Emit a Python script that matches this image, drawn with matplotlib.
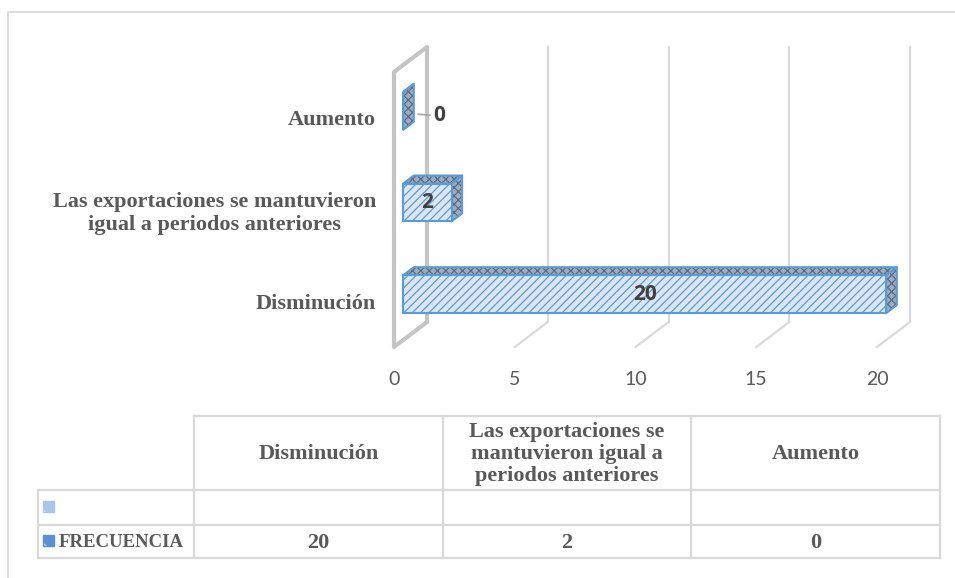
import matplotlib
matplotlib.use("Agg")
import matplotlib.pyplot as plt
from matplotlib.patches import Polygon, Rectangle
from matplotlib.lines import Line2D

# ---------------- data ----------------
categories = ["Disminución",
              "Las exportaciones se mantuvieron\nigual a periodos anteriores",
              "Aumento"]
table_headers = ["Disminución",
                 "Las exportaciones se\nmantuvieron igual a\nperiodos anteriores",
                 "Aumento"]
values = [20, 2, 0]
series_name = "FRECUENCIA"
x_ticks = [0, 5, 10, 15, 20]

# ---------------- style ----------------
plt.rcParams['hatch.linewidth'] = 0.9
W, H = 955, 578
SERIF = ['Liberation Serif', 'DejaVu Serif']
SANS = ['Lato', 'DejaVu Sans']
BOLDSANS = ['Open Sans', 'DejaVu Sans']
TXT = '#595959'
GRID = '#d9d9d9'
WALL = '#c4c4c4'
BLUE = '#5b9bd5'
FRONT = '#dce6f2'
DARKFACE = '#9eacbf'
DARKHATCH = '#5a6a80'

fig = plt.figure(figsize=(W / 100, H / 100), dpi=100)
fig.patch.set_facecolor('white')

# background axes in pixel coordinates for frame + table
tax = fig.add_axes([0, 0, 1, 1], zorder=0)
tax.set_xlim(0, W)
tax.set_ylim(H, 0)
tax.axis('off')

# outer frame
tax.add_line(Line2D([8, 8, W + 5], [H + 5, 12, 12], color='#d9d9d9', lw=1.3))

# chart axes (front plane of the 3D box)
L, R, T, B = 394, 877, 72, 347
ax = fig.add_axes([L / W, (H - B) / H, (R - L) / W, (B - T) / H], zorder=2)
ax.set_xlim(0, 20)
ax.set_ylim(-0.5, 2.5)
ax.patch.set_alpha(0)
for s in ax.spines.values():
    s.set_visible(False)

# depth (front -> back) expressed in data units
px_x = (R - L) / 20.0
px_y = (B - T) / 3.0
DX = 33 / px_x
DY = 25 / px_y


def P(x, y, d):
    return (x + d * DX, y + d * DY)


# back wall gridlines and floor lines
for t in x_ticks:
    if t == 0:
        continue
    x0, y0 = P(t, -0.5, 1)
    x1, y1 = P(t, 2.5, 1)
    ax.add_line(Line2D([x0, x1], [y0, y1], color=GRID, lw=1.6, clip_on=False, zorder=1))
    fx, fy = P(t, -0.5, 0)
    ax.add_line(Line2D([fx, x0], [fy, y0], color=GRID, lw=1.6, clip_on=False, zorder=1))

# side wall
wall = Polygon([P(0, -0.5, 0), P(0, 2.5, 0), P(0, 2.5, 1), P(0, -0.5, 1)],
               closed=True, facecolor='none', edgecolor=WALL, lw=3,
               joinstyle='round', clip_on=False, zorder=1.5)
ax.add_patch(wall)

# bars
h = 0.414
d1, d2 = 0.28, 0.60
for i, v in enumerate(values):
    c = i
    lo, hi = c - h / 2, c + h / 2
    top = [P(0, hi, d1), P(v, hi, d1), P(v, hi, d2), P(0, hi, d2)]
    side = [P(v, lo, d1), P(v, hi, d1), P(v, hi, d2), P(v, lo, d2)]
    front = [P(0, lo, d1), P(v, lo, d1), P(v, hi, d1), P(0, hi, d1)]
    for pts in (top, side):
        ax.add_patch(Polygon(pts, closed=True, facecolor=DARKFACE, edgecolor=DARKHATCH,
                             hatch='xxxx', lw=0, clip_on=False, zorder=3))
        ax.add_patch(Polygon(pts, closed=True, facecolor='none', edgecolor=BLUE,
                             lw=1.5, joinstyle='round', clip_on=False, zorder=3.1))
    ax.add_patch(Polygon(front, closed=True, facecolor=FRONT, edgecolor=BLUE,
                         hatch='////', lw=1.5, joinstyle='round', clip_on=False, zorder=3.2))

# data labels
for i, v in enumerate(values):
    if v > 0:
        ax.text(*P(v / 2, i, d1), f"{v}", ha='center', va='center',
                fontsize=15, fontweight='bold', color='#404040',
                family=BOLDSANS, zorder=5)
    else:
        ax.annotate(f"{v}", xy=P(v, i - 0.12, d2), xytext=(18, -1.5),
                    textcoords='offset points', ha='center', va='center',
                    fontsize=15, fontweight='bold', color='#404040', family=BOLDSANS,
                    arrowprops=dict(arrowstyle='-', color='#a6a6a6', lw=1.2,
                                    shrinkA=0, shrinkB=3), zorder=5)

# ticks
ax.set_xticks(x_ticks)
ax.set_xticklabels([str(t) for t in x_ticks], family=SANS, fontsize=14, color=TXT)
ax.tick_params(axis='x', length=0, pad=17)
ax.set_yticks(range(len(categories)))
ax.set_yticklabels(categories, family=SERIF, fontsize=16, fontweight='bold',
                   color=TXT, multialignment='center')
ax.tick_params(axis='y', length=0, pad=13)

# ---------------- data table ----------------
cols = [38, 194, 443, 691, 940]
rows = [416, 490, 525, 558]
lc = '#d9d9d9'
tlw = 1.6
tax.add_line(Line2D([cols[1], cols[-1]], [rows[0], rows[0]], color=lc, lw=tlw))
for yv in rows[1:]:
    tax.add_line(Line2D([cols[0], cols[-1]], [yv, yv], color=lc, lw=tlw))
tax.add_line(Line2D([cols[0], cols[0]], [rows[1], rows[-1]], color=lc, lw=tlw))
for xv in cols[1:]:
    tax.add_line(Line2D([xv, xv], [rows[0], rows[-1]], color=lc, lw=tlw))

for j, head in enumerate(table_headers):
    cx = (cols[j + 1] + cols[j + 2]) / 2
    tax.text(cx, (rows[0] + rows[1]) / 2 + 1, head, ha='center', va='center',
             family=SERIF, fontsize=16, fontweight='bold', color=TXT,
             multialignment='center', linespacing=1.15)
    tax.text(cx, (rows[2] + rows[3]) / 2 + 1, f"{values[j]}", ha='center', va='center',
             family=SERIF, fontsize=16, fontweight='bold', color=TXT)

# legend keys
for ky, fc, hc in ((501, '#a9c6e8', '#eef3fa'), (535, '#5b8fcf', '#dbe6f3')):
    tax.add_patch(Rectangle((43, ky), 11, 11, facecolor=fc, edgecolor=hc,
                            hatch='\\', lw=0, zorder=3))
    tax.add_patch(Rectangle((43, ky), 11, 11, facecolor='none', edgecolor=fc,
                            lw=1.0, zorder=3.1))
tax.text(59, (rows[2] + rows[3]) / 2 + 1, series_name, ha='left', va='center',
         family=SERIF, fontsize=13.5, fontweight='bold', color=TXT)

fig.savefig('out.png', dpi=100, facecolor='white')
